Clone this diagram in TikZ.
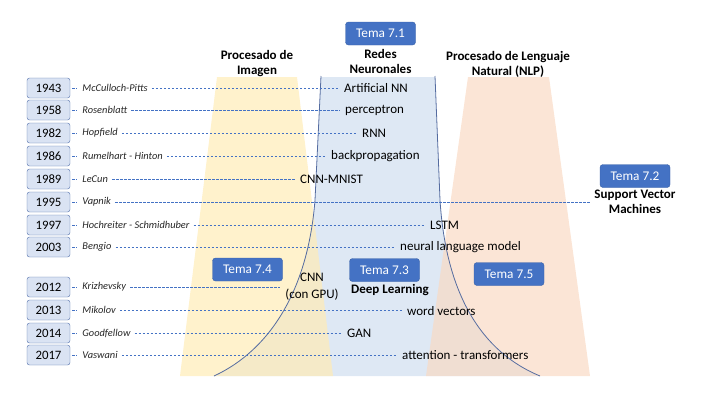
\documentclass[tikz,border=0pt]{standalone}
\usepackage{fontspec}
\setmainfont{Carlito}
\usetikzlibrary{positioning}
\definecolor{myblue}{RGB}{68,114,196}
\definecolor{myyearfill}{RGB}{218,227,243}
\definecolor{myyeardraw}{RGB}{80,110,170}
\definecolor{myyellow}{RGB}{255,236,182}
\definecolor{myorange}{RGB}{249,218,196}
\definecolor{mylightblue}{RGB}{222,232,244}
\definecolor{myedge}{RGB}{85,108,160}
\pgfdeclarelayer{background}
\pgfsetlayers{background,main}

\begin{document}
\begin{tikzpicture}[x=1pt,y=-1pt,
yearb/.style={
  draw=myyeardraw,
  fill=myyearfill,
  rounded corners=2.5pt,
  minimum width=43pt,
  minimum height=20pt,
  inner sep=0pt,
  font=\fontsize{12.8}{14}\selectfont},
author/.style={inner sep=2pt,text=black!85,font=\fontsize{10.4}{12}\selectfont\itshape},
topic/.style={inner sep=2pt,align=center,font=\fontsize{13}{17}\selectfont},
temab/.style={
  fill=myblue,
  draw=myblue!85!black,
  rounded corners=3pt,
  text=white,
  minimum width=70pt,
  minimum height=23pt,
  inner sep=0pt,
  font=\fontsize{13.3}{15}\selectfont},
head/.style={inner sep=1pt,align=center,font=\fontsize{13}{15}\selectfont\bfseries},
dashl/.style={myblue,dash pattern=on 2.5pt off 1.5pt,line width=0.6pt,shorten <=2pt,shorten >=3pt},
]
\useasboundingbox (0,0) rectangle (711,400);
% years
\node[yearb] (Y43) at (48.5,88) {1943};
\node[yearb] (Y58) at (48.5,110) {1958};
\node[yearb] (Y82) at (48.5,133) {1982};
\node[yearb] (Y86) at (48.5,156) {1986};
\node[yearb] (Y89) at (48.5,179) {1989};
\node[yearb] (Y95) at (48.5,202) {1995};
\node[yearb] (Y97) at (48.5,225) {1997};
\node[yearb] (Y03) at (48.5,247) {2003};
\node[yearb] (Y12) at (48.5,287) {2012};
\node[yearb] (Y13) at (48.5,310) {2013};
\node[yearb] (Y14) at (48.5,333) {2014};
\node[yearb] (Y17) at (48.5,355) {2017};
% authors
\node[author,right=10pt of Y43] (A43) {McCulloch-Pitts};
\node[author,right=10pt of Y58] (A58) {Rosenblatt};
\node[author,right=10pt of Y82] (A82) {Hopfield};
\node[author,right=10pt of Y86] (A86) {Rumelhart - Hinton};
\node[author,right=10pt of Y89] (A89) {LeCun};
\node[author,right=10pt of Y95] (A95) {Vapnik};
\node[author,right=10pt of Y97] (A97) {Hochreiter - Schmidhuber};
\node[author,right=10pt of Y03] (A03) {Bengio};
\node[author,right=10pt of Y12] (A12) {Krizhevsky};
\node[author,right=10pt of Y13] (A13) {Mikolov};
\node[author,right=10pt of Y14] (A14) {Goodfellow};
\node[author,right=10pt of Y17] (A17) {Vaswani};
% topics
\node[topic,anchor=west] (L43) at (342,88) {Artificial NN};
\node[topic,anchor=west] (L58) at (343,110) {perceptron};
\node[topic,anchor=west] (L82) at (360,133) {RNN};
\node[topic,anchor=west] (L86) at (329,156) {backpropagation};
\node[topic,anchor=west] (L89) at (298,179) {CNN-MNIST};
\node[topic,anchor=west] (L97) at (428,225) {LSTM};
\node[topic,anchor=west] (L03) at (398,247) {neural language model};
\node[topic] (L12) at (312,287) {CNN\\(con GPU)};
\node[topic,anchor=west] (L13) at (405,311) {word vectors};
\node[topic,anchor=west] (L14) at (345,333) {GAN};
\node[topic,anchor=west] (L17) at (400,355) {attention - transformers};
% temas
\node[temab] (T71) at (380.5,33.5) {Tema 7.1};
\node[head,below=2.5pt of T71] (RNe) {Redes\\Neuronales};
\node[head] (PIm) at (257,64) {Procesado de\\Imagen};
\node[head] (NLP) at (508,64) {Procesado de Lenguaje\\Natural (NLP)};
\node[temab] (T72) at (635,176) {Tema 7.2};
\node[head,below=1pt of T72] (SVM) {Support Vector\\Machines};
\node[temab] (T74) at (247.5,269.5) {Tema 7.4};
\node[temab] (T73) at (384.5,270) {Tema 7.3};
\node[head] (DLe) at (390,290) {Deep Learning};
\node[temab] (T75) at (509,274) {Tema 7.5};
% timeline connectors
\foreach \i in {43,58,82,86,89,95,97,03,12,13,14,17}
  \draw[dashl] (Y\i) -- (A\i);
\draw[dashl] (A43) -- (A43 -| L43.west);
\draw[dashl] (A58) -- (A58 -| L58.west);
\draw[dashl] (A82) -- (A82 -| L82.west);
\draw[dashl] (A86) -- (A86 -| L86.west);
\draw[dashl] (A89) -- (A89 -| L89.west);
\draw[dashl] (A95) -- (A95 -| SVM.west);
\draw[dashl] (A97) -- (A97 -| L97.west);
\draw[dashl] (A03) -- (A03 -| L03.west);
\draw[dashl] (A12) -- (A12 -| L12.west);
\draw[dashl] (A13) -- (A13 -| L13.west);
\draw[dashl] (A14) -- (A14 -| L14.west);
\draw[dashl] (A17) -- (A17 -| L17.west);
\begin{pgfonlayer}{background}
\fill[mylightblue] (321,77) -- (315,200) .. controls (308,290) and (270,350) .. (214,376)
  -- (540,376) .. controls (482,352) and (446,295) .. (440,200) -- (435,77) -- cycle;
\fill[myyellow,fill opacity=0.7] (217,77) -- (297,77) -- (333,376) -- (180,376) -- cycle;
\fill[myorange,fill opacity=0.7] (468,77) -- (549,77) -- (590,376) -- (426,376) -- cycle;
\draw[myedge,line width=0.8pt] (321,76) -- (315,200) .. controls (308,290) and (270,350) .. (214,376);
\draw[myedge,line width=0.8pt] (435,76) -- (440,200) .. controls (446,295) and (482,352) .. (540,376);
\end{pgfonlayer}
\end{tikzpicture}
\end{document}
